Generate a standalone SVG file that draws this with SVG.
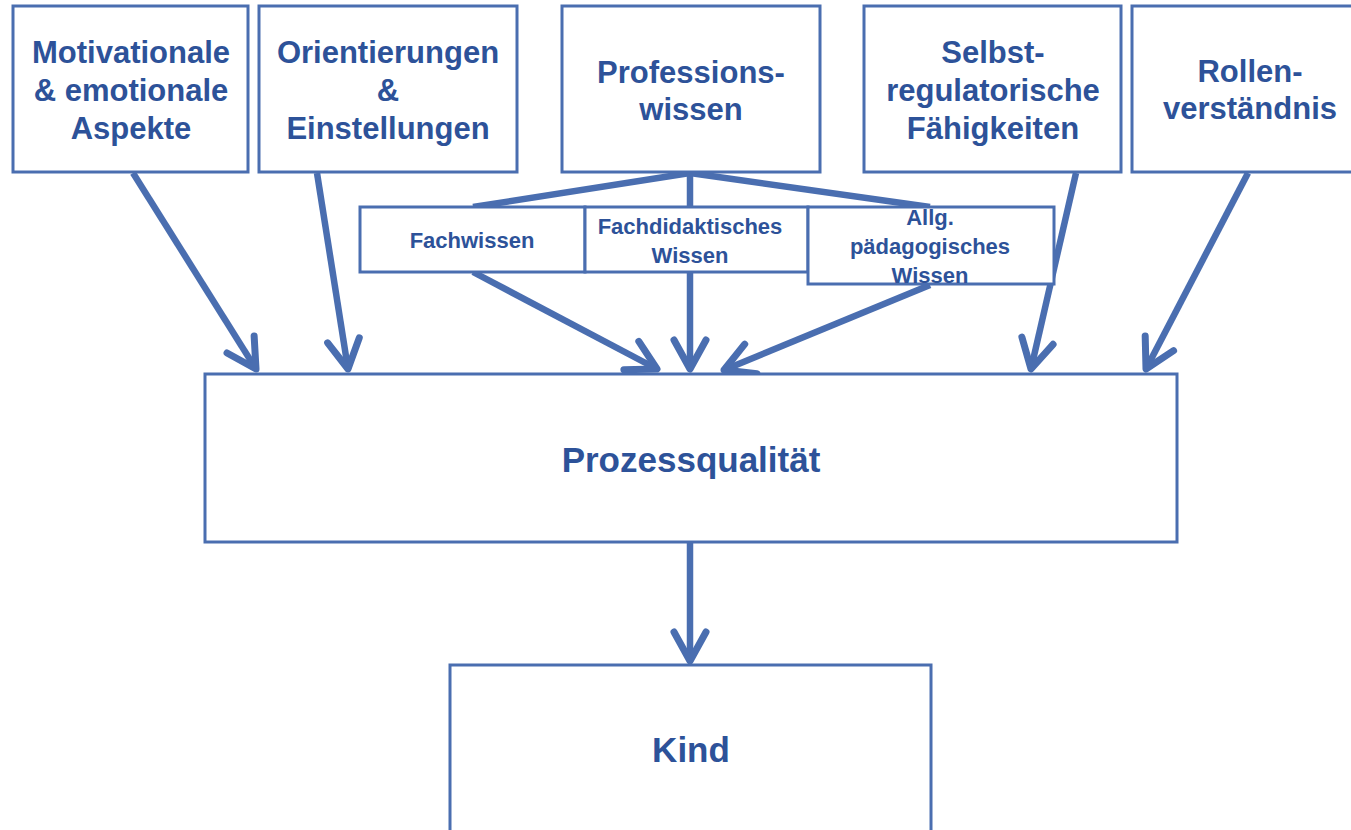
<svg xmlns="http://www.w3.org/2000/svg" width="1351" height="830" viewBox="0 0 1351 830">
<style>
.box{fill:#fff;stroke:#4A6EB0;stroke-width:3}
.t{font-family:"Liberation Sans",Arial,sans-serif;font-weight:bold;fill:#2D5299;text-anchor:middle}
.big{font-size:31px}
.sm{font-size:22px}
.huge{font-size:35px}
.c{stroke:#4A6EB0;stroke-width:6.5;fill:none;stroke-linecap:butt}
.a{marker-end:url(#ah)}
</style>
<defs>
<marker id="ah" markerUnits="userSpaceOnUse" markerWidth="40" markerHeight="40" viewBox="-35 -20 40 40" refX="0" refY="0" orient="auto" overflow="visible">
<path d="M-29 -16 L0 0 L-29 16" fill="none" stroke="#4A6EB0" stroke-width="7" stroke-linecap="round" stroke-linejoin="round"/>
</marker>
</defs>
<rect width="1351" height="830" fill="#fff"/>
<g id="connectors">
<line class="c a" x1="133" y1="173" x2="256" y2="369"/>
<line class="c a" x1="317" y1="173" x2="348" y2="369"/>
<line class="c a" x1="1076" y1="173" x2="1031" y2="369"/>
<line class="c a" x1="1248" y1="173" x2="1146" y2="369"/>
<line class="c" x1="690" y1="173" x2="473" y2="207"/>
<line class="c" x1="690" y1="173" x2="690" y2="207"/>
<line class="c" x1="690" y1="173" x2="930" y2="207"/>
<line class="c a" x1="473" y1="272" x2="657" y2="369"/>
<line class="c a" x1="690" y1="272" x2="690" y2="369"/>
<line class="c a" x1="930" y1="285" x2="724" y2="370"/>
<line class="c a" x1="690" y1="543" x2="690" y2="661"/>
</g>
<g id="n-motivation">
<rect class="box" x="13" y="6" width="235" height="166"/>
<text class="t big" x="131" y="63">Motivationale</text>
<text class="t big" x="131" y="101">&amp; emotionale</text>
<text class="t big" x="131" y="139">Aspekte</text>
</g>
<g id="n-orientierungen">
<rect class="box" x="259" y="6" width="258" height="166"/>
<text class="t big" x="388" y="63">Orientierungen</text>
<text class="t big" x="388" y="101">&amp;</text>
<text class="t big" x="388" y="139">Einstellungen</text>
</g>
<g id="n-professionswissen">
<rect class="box" x="562" y="6" width="258" height="166"/>
<text class="t big" x="691" y="83">Professions-</text>
<text class="t big" x="691" y="120">wissen</text>
</g>
<g id="n-selbst">
<rect class="box" x="864" y="6" width="257" height="166"/>
<text class="t big" x="993" y="63">Selbst-</text>
<text class="t big" x="993" y="101">regulatorische</text>
<text class="t big" x="993" y="139">Fähigkeiten</text>
</g>
<g id="n-rollen">
<rect class="box" x="1132" y="6" width="240" height="166"/>
<text class="t big" x="1250" y="82">Rollen-</text>
<text class="t big" x="1250" y="119">verständnis</text>
</g>
<g id="n-fachwissen">
<rect class="box" x="360" y="207" width="225" height="65"/>
<text class="t sm" x="472" y="248">Fachwissen</text>
</g>
<g id="n-fachdidaktik">
<rect class="box" x="585" y="207" width="223" height="65"/>
<text class="t sm" x="690" y="234">Fachdidaktisches</text>
<text class="t sm" x="690" y="263">Wissen</text>
</g>
<g id="n-allg">
<rect class="box" x="808" y="207" width="246" height="77"/>
<text class="t sm" x="930" y="225">Allg.</text>
<text class="t sm" x="930" y="254">pädagogisches</text>
<text class="t sm" x="930" y="283">Wissen</text>
</g>
<g id="n-prozess">
<rect class="box" x="205" y="374" width="972" height="168"/>
<text class="t huge" x="691" y="472">Prozessqualität</text>
</g>
<g id="n-kind">
<rect class="box" x="450" y="665" width="481" height="180"/>
<text class="t huge" x="691" y="762">Kind</text>
</g>
</svg>
